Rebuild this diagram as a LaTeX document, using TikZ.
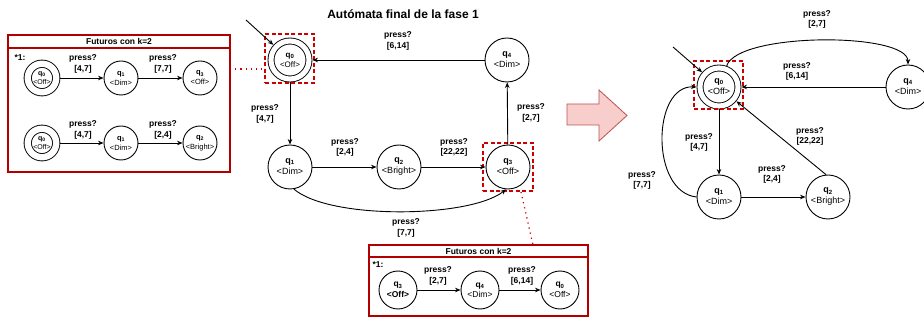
\documentclass[tikz,border=0pt]{standalone}
\usepackage{fontspec}
\setmainfont{Liberation Sans}
\usetikzlibrary{arrows.meta}
\definecolor{boxred}{HTML}{B20000}
\definecolor{dashred}{HTML}{CC0000}
\definecolor{arrowfill}{HTML}{F8CECC}
\definecolor{arrowdraw}{HTML}{B85450}
\newcommand\qn[1]{\textbf{q\textsubscript{#1}}}
\begin{document}
\begin{tikzpicture}[x=1pt,y=-1pt,
 st/.style={circle,draw,line width=0.9pt,minimum size=44pt,inner sep=0pt,align=center,font=\fontsize{9}{11}\selectfont},
 acc/.style={st,double,double distance=5.1pt,minimum size=38pt,outer sep=3.5pt},
 sst/.style={circle,draw,line width=0.9pt,minimum size=34pt,inner sep=0pt,align=center,font=\fontsize{7.5}{10}\selectfont},
 sacc/.style={sst,double,double distance=6.4pt,minimum size=28.5pt,outer sep=3.7pt},
 bst/.style={circle,draw,line width=0.9pt,minimum size=38pt,inner sep=0pt,align=center,font=\fontsize{8.5}{10.5}\selectfont},
 lbl/.style={font=\bfseries\fontsize{8.5}{10.5}\selectfont,align=center,inner sep=0pt},
 arr/.style={-{Stealth[length=5.5pt,width=4.5pt]},line width=0.9pt},
 frame/.style={draw=boxred,line width=1.5pt},
 hl/.style={draw=dashred,line width=1.5pt,dash pattern=on 4pt off 2.5pt,inner sep=0pt},
 lnk/.style={draw=dashred,line width=1.3pt,dash pattern=on 1.2pt off 4pt},
 ttl/.style={font=\bfseries\fontsize{8.5}{10}\selectfont,inner sep=0pt},
]
\useasboundingbox (0,0) rectangle (924,320);

% ---------- left box ----------
\draw[frame] (8,35) rectangle (230,172);
\draw[frame] (8,48) -- (230,48);
\node[ttl] (t1) at (119,41.5) {Futuros con k=2};
\node[lbl] (s1) at (20,58) {*1:};
\node[sacc,font=\fontsize{7}{9}\selectfont] (a0) at (42,78) {\qn{0}\\{}<Off>};
\node[sst] (a1) at (121,78) {\qn{1}\\{}<Dim>};
\node[sst] (a3) at (200,78) {\qn{3}\\{}<Off>};
\draw[arr] (a0) -- (a1);
\draw[arr] (a1) -- (a3);
\node[lbl] (la1) at (83,64) {press?\\{}[4,7]};
\node[lbl] (la2) at (163,64) {press?\\{}[7,7]};
\node[sacc,font=\fontsize{7}{9}\selectfont] (b0) at (42,143) {\qn{0}\\{}<Off>};
\node[sst] (b1) at (121,143) {\qn{1}\\{}<Dim>};
\node[sst] (b2) at (200,143) {\qn{2}\\{}<Bright>};
\draw[arr] (b0) -- (b1);
\draw[arr] (b1) -- (b2);
\node[lbl] (lb1) at (83,130) {press?\\{}[4,7]};
\node[lbl] (lb2) at (163,130) {press?\\{}[2,4]};

% ---------- main automaton ----------
\node[font=\bfseries\fontsize{12}{14}\selectfont] (title) at (403,14) {Autómata final de la fase 1};
\node[acc,font=\fontsize{8}{10}\selectfont] (q0m) at (290,60) {\qn{0}\\{}<Off>};
\node[st] (q4m) at (507,60) {\qn{4}\\{}<Dim>};
\node[st] (q1m) at (290,167) {\qn{1}\\{}<Dim>};
\node[st] (q2m) at (399,167) {\qn{2}\\{}<Bright>};
\node[st] (q3m) at (508,167) {\qn{3}\\{}<Off>};
\node[hl,minimum size=49pt] (h0) at (289.5,58.5) {};
\node[hl,minimum width=50pt,minimum height=48pt] (h3) at (508,167) {};
\coordinate (i0) at (246,20);
\draw[arr] (i0) -- (q0m);
\draw[arr] (q4m) -- (q0m);
\draw[arr] (q0m) -- (q1m);
\draw[arr] (q1m) -- (q2m);
\draw[arr] (q2m) -- (q3m);
\draw[arr] (q3m) -- (q4m);
\draw[arr] (q1m.-80) .. controls (330,220) and (470,218) .. (q3m.-95);
\node[lbl] (l04) at (398,41) {press?\\{}[6,14]};
\node[lbl] (l01) at (265,114) {press?\\{}[4,7]};
\node[lbl] (l12) at (345,147.5) {press?\\{}[2,4]};
\node[lbl] (l23) at (454,147.5) {press?\\{}[22,22]};
\node[lbl] (l34) at (531,113) {press?\\{}[2,7]};
\node[lbl] (l13) at (406,228) {press?\\{}[7,7]};

% dotted links
\coordinate (d1) at (230,69);
\draw[lnk] (d1) -- (h0.west |- d1);
\coordinate (d2) at (521,192);
\coordinate (d3) at (533,245);
\draw[lnk] (d2) -- (d3);

% ---------- bottom box ----------
\draw[frame] (369,245) rectangle (588,316);
\draw[frame] (369,257) -- (588,257);
\node[ttl] (t2) at (478.5,251) {Futuros con k=2};
\node[lbl] (s2) at (378,265) {*1:};
\node[bst] (c3) at (398,290) {\qn{3}\\{}\textbf{<Off>}};
\node[bst] (c4) at (480,290) {\qn{4}\\{}<Dim>};
\node[bst] (c0) at (560,290) {\qn{0}\\{}<Off>};
\draw[arr] (c3) -- (c4);
\draw[arr] (c4) -- (c0);
\node[lbl] (lc1) at (438,276) {press?\\{}[2,7]};
\node[lbl] (lc2) at (522,276) {press?\\{}[6,14]};

% ---------- big arrow ----------
\draw[fill=arrowfill,draw=arrowdraw,line width=0.8pt] (567,104) -- (599,104) -- (599,90) -- (627,115.5) -- (599,141) -- (599,125) -- (567,125) -- cycle;

% ---------- right automaton ----------
\node[acc] (q0r) at (719,87) {\qn{0}\\{}<Off>};
\node[st] (q4r) at (908,87) {\qn{4}\\{}<Dim>};
\node[st] (q1r) at (719,197) {\qn{1}\\{}<Dim>};
\node[st] (q2r) at (828,197) {\qn{2}\\{}<Bright>};
\node[hl,minimum width=49pt,minimum height=48pt] (h0r) at (718.5,85) {};
\coordinate (i1) at (673,47);
\draw[arr] (i1) -- (q0r);
\draw[arr] (q0r.70) .. controls (738,32) and (908,32) .. (q4r.north);
\draw[arr] (q4r) -- (q0r);
\draw[arr] (q0r) -- (q1r);
\draw[arr] (q1r) -- (q2r);
\draw[arr] (q2r.95) -- (q0r);
\draw[arr] (q1r.west) .. controls (650,192) and (652,85) .. (q0r.west);
\node[lbl] (r04) at (817,19.5) {press?\\{}[2,7]};
\node[lbl] (r40) at (797,71.5) {press?\\{}[6,14]};
\node[lbl] (r01) at (699,142.5) {press?\\{}[4,7]};
\node[lbl] (r12) at (772,174.5) {press?\\{}[2,4]};
\node[lbl] (r20) at (810,136.5) {press?\\{}[22,22]};
\node[lbl] (r10) at (642,180.5) {press?\\{}[7,7]};
\end{tikzpicture}
\end{document}
